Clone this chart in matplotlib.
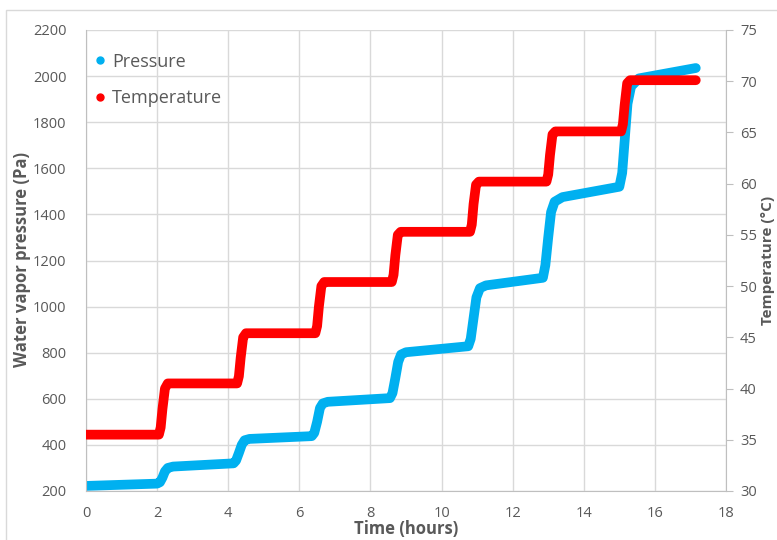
import matplotlib.pyplot as plt
from matplotlib.patches import Rectangle
from matplotlib.lines import Line2D

# --- Data (time in hours) ---
pressure_time = [0.0, 2.0, 2.08, 2.15, 2.22, 2.3, 2.45, 4.15, 4.22, 4.3, 4.38, 4.46, 4.6,
                 6.35, 6.42, 6.5, 6.58, 6.66, 6.8, 8.55, 8.62, 8.7, 8.78, 8.86, 9.0,
                 10.75, 10.82, 10.9, 10.98, 11.08, 11.25, 12.85, 12.92, 13.0, 13.08, 13.18, 13.4,
                 15.0, 15.08, 15.15, 15.23, 15.33, 15.55, 17.15]
pressure_pa = [222, 232, 238, 258, 285, 300, 306, 320, 332, 365, 400, 420, 426,
               438, 452, 500, 560, 580, 587, 603, 625, 690, 760, 792, 802,
               828, 860, 950, 1040, 1080, 1092, 1125, 1180, 1300, 1410, 1455, 1475,
               1520, 1580, 1720, 1880, 1955, 1990, 2035]

temp_time = [0.0, 2.05, 2.1, 2.15, 2.22, 2.3, 4.25, 4.3, 4.35, 4.42, 4.5,
             6.45, 6.5, 6.55, 6.62, 6.7, 8.6, 8.65, 8.7, 8.77, 8.85,
             10.8, 10.85, 10.9, 10.97, 11.05, 12.95, 13.0, 13.05, 13.12, 13.2,
             15.05, 15.1, 15.15, 15.22, 15.3, 17.15]
temp_c = [35.5, 35.5, 36.2, 38.0, 40.0, 40.5, 40.5, 41.2, 43.0, 45.0, 45.4,
          45.4, 46.1, 48.0, 50.0, 50.4, 50.4, 51.1, 53.0, 55.0, 55.3,
          55.3, 56.0, 58.0, 59.9, 60.2, 60.2, 60.9, 62.8, 64.8, 65.1,
          65.1, 65.8, 67.7, 69.8, 70.1, 70.1]

blue = '#00B0F0'
red = '#FF0000'
grey = '#595959'
grid_grey = '#D9D9D9'

plt.rcParams['font.family'] = ['Open Sans', 'DejaVu Sans']

fig = plt.figure(figsize=(7.77, 5.4), dpi=100)
fig.patches.append(Rectangle((6 / 777, -0.1), 1.2, 1.0 - 10 / 540 + 0.1,
                             transform=fig.transFigure, fill=False,
                             edgecolor=grid_grey, linewidth=1))

ax1 = fig.add_axes([86 / 777, 49 / 540, 640 / 777, 461 / 540])
ax2 = ax1.twinx()

l1, = ax1.plot(pressure_time, pressure_pa, color=blue, linewidth=7,
               solid_capstyle='round', solid_joinstyle='round')
l2, = ax2.plot(temp_time, temp_c, color=red, linewidth=7,
               solid_capstyle='round', solid_joinstyle='round')

ax1.set_xlim(0, 18)
ax1.set_ylim(200, 2200)
ax2.set_ylim(30, 75)
ax1.set_xticks(range(0, 19, 2))
ax1.set_yticks(range(200, 2201, 200))
ax2.set_yticks(range(30, 76, 5))

ax1.grid(True, color=grid_grey, linewidth=1)
ax1.set_axisbelow(True)

for ax in (ax1, ax2):
    for s in ax.spines.values():
        s.set_visible(False)
ax1.spines['bottom'].set_visible(True)
ax1.spines['bottom'].set_color('#BFBFBF')
ax1.spines['left'].set_visible(True)
ax1.spines['left'].set_color('#BFBFBF')
ax2.spines['right'].set_visible(True)
ax2.spines['right'].set_color('#BFBFBF')

ax1.tick_params(axis='x', length=0, labelsize=10.5, labelcolor=grey, pad=11)
ax1.tick_params(axis='y', length=0, labelsize=10.5, labelcolor=grey, pad=14)
ax2.tick_params(axis='y', length=5, color='#BFBFBF', labelsize=10.5,
                labelcolor=grey, pad=5)

# axis titles placed by hand so they stay inside the canvas
fig.text(406 / 777, 1 - 529 / 540, 'Time (hours)', fontsize=12, fontweight='bold',
         color=grey, ha='center', va='center')
fig.text(22 / 777, 1 - 260 / 540, 'Water vapor pressure (Pa)', fontsize=12,
         fontweight='bold', color=grey, rotation=90, ha='center', va='center')
fig.text(768 / 777, 1 - 260 / 540, 'Temperature (°C)', fontsize=11,
         fontweight='bold', color=grey, rotation=90, ha='center', va='center')

handles = [Line2D([], [], linestyle='none', marker='o', markersize=5, color=blue),
           Line2D([], [], linestyle='none', marker='o', markersize=5, color=red)]
ax1.legend(handles, ['Pressure', 'Temperature'], loc='upper left', frameon=False,
           bbox_to_anchor=(-0.002, 0.974), fontsize=13, handlelength=0.5,
           handletextpad=0.4, labelspacing=1.0, borderaxespad=0, borderpad=0.6,
           labelcolor=grey)

fig.savefig('out.png', dpi=100)
